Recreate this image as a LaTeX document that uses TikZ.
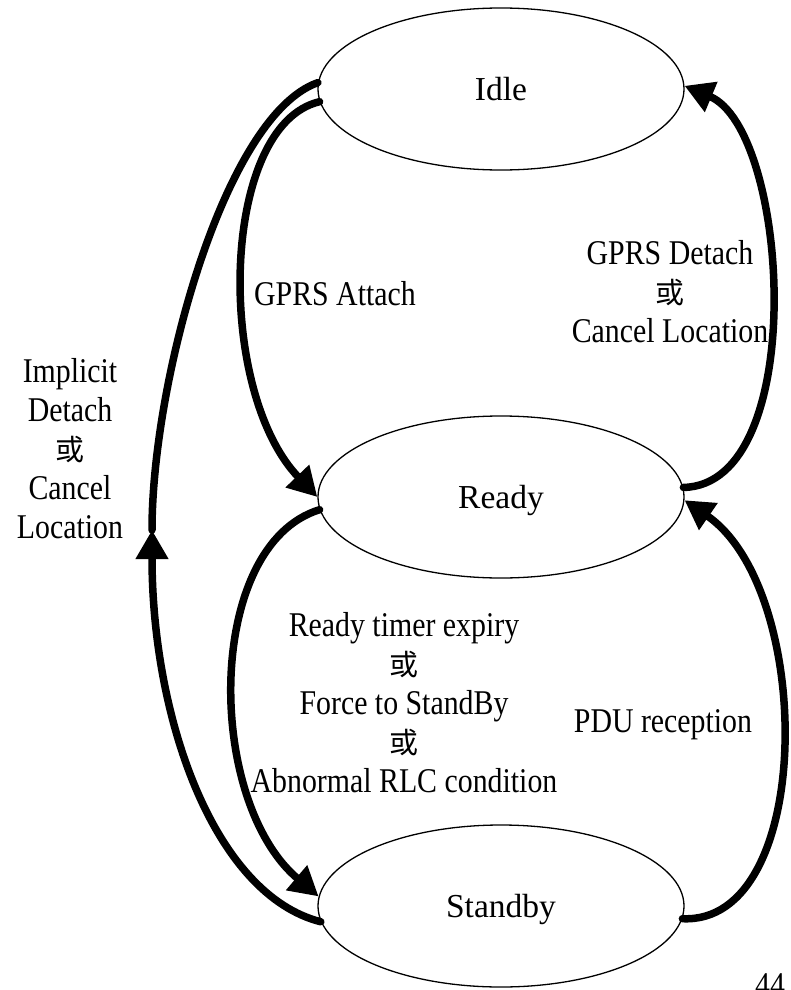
\documentclass[tikz,border=0pt]{standalone}
\usepackage{fontspec}
\setmainfont{Liberation Serif}
\newfontfamily\lblfont[FakeStretch=0.86]{Liberation Serif}
\newfontfamily\cjk{Noto Sans CJK TC}
\newcommand\huo{{\cjk\fontsize{29}{39}\selectfont 或}}
\usetikzlibrary{shapes.geometric,arrows.meta}

\tikzset{
  state/.style={draw, ellipse, line width=1.3pt, minimum width=366pt, minimum height=162pt,
    inner sep=0pt, text depth=0pt, font=\fontsize{33.5}{40}\selectfont},
  lbl/.style={align=center, inner sep=0pt, font=\lblfont\fontsize{34.7}{39}\selectfont},
  link/.style={line width=7.5pt, line cap=round},
  trans/.style={link, -{Triangle[length=29pt,width=31pt]}}
}

\begin{document}
\begin{tikzpicture}[x=1pt, y=-1pt]
  \useasboundingbox (0,0) rectangle (791,990);

  % states
  \node[state] (idle) at (501,89) {Idle};
  \node[state] (ready) at (501,497) {Ready};
  \node[state] (standby) at (501,906) {Standby};

  % labels
  \node[lbl, anchor=base] (lattach) at (335,305) {GPRS Attach};
  \node[lbl] (ldetach) at (670,292) {GPRS Detach\\\huo\\Cancel Location};
  \node[lbl] (limplicit) at (70,449) {Implicit\\Detach\\\huo\\Cancel\\Location};
  \node[lbl] (ltimer) at (404,703) {Ready timer expiry\\\huo\\Force to StandBy\\\huo\\Abnormal RLC condition};
  \node[lbl, anchor=base] (lpdu) at (663,732) {PDU reception};
  \node[lbl, anchor=base west] (lpage) at (755,996) {44};

  % transitions
  \coordinate (imp) at (152,530);
  \draw[trans] (standby.185) .. controls (215,895) and (152,720) .. (imp);
  \draw[link] (imp) .. controls (152,380) and (225,115) .. (idle.178);
  \draw[trans] (idle.184) .. controls (220,125) and (215,390) .. (ready.180);
  \draw[trans] (ready.184) .. controls (205,545) and (205,800) .. (standby.177);
  \draw[trans] (standby.356) .. controls (815,925) and (815,590) .. (ready.359);
  \draw[trans] (ready.3) .. controls (810,485) and (790,130) .. (idle.1);

\end{tikzpicture}
\end{document}
